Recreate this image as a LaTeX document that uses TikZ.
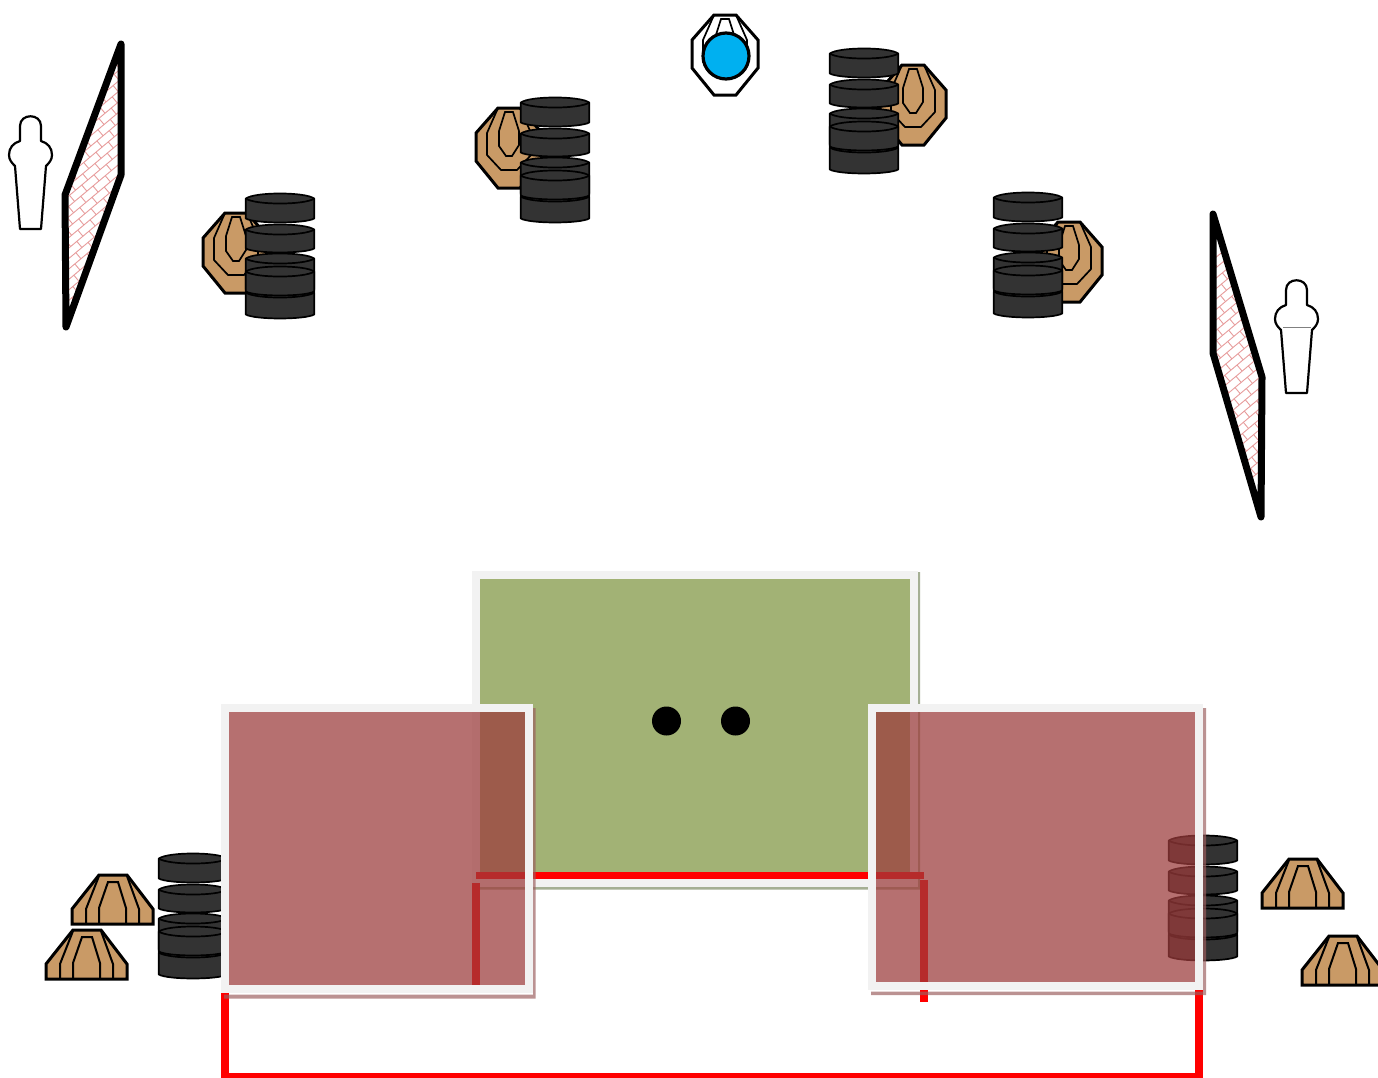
\documentclass[tikz,border=0pt]{standalone}
\definecolor{tanfill}{HTML}{C99A66}
\definecolor{darkfill}{HTML}{333333}
\definecolor{bluefill}{HTML}{00B0F0}
\definecolor{greenfill}{HTML}{A2B275}
\definecolor{greenshadow}{HTML}{A5AF94}
\definecolor{bordgrey}{HTML}{F2F2F2}
\definecolor{redfillc}{HTML}{9C3C3C}
\definecolor{redshadow}{HTML}{9C5F5F}
\definecolor{brickc}{HTML}{E79C9C}
\tikzset{
  cylbody/.style={draw=black,fill=darkfill,line width=1.7pt,line join=round},
  cylline/.style={draw=black,line width=1.7pt},
  targout/.style={draw=black,line width=3pt,line join=miter},
  targin/.style={draw=black,line width=1.7pt,line join=miter},
  coneout/.style={draw=black,fill=tanfill,line width=3pt,line join=miter},
  conein/.style={draw=black,line width=2pt,line join=miter},
  personline/.style={draw=black,fill=white,line width=2.2pt,line join=round},
  wallline/.style={draw=black,line width=7pt,line join=round,line cap=round},
  brickline/.style={draw=brickc,line width=.9pt},
  redline/.style={draw=red,line width=7.5pt},
  panelborder/.style={draw=bordgrey,line width=8pt,line join=miter},
  redfill/.style={fill=redfillc,fill opacity=.73},
  redshade/.style={fill=redshadow,fill opacity=.68},
}
\newcommand{\cylone}[2]{% top, bottom
  \path[cylbody] (.8,#1+5) -- (.8,#2-4) .. controls (10,#2+1.3) and (60,#2+1.3) .. (69.2,#2-4)
    -- (69.2,#1+5) .. controls (60,#1-1.7) and (10,#1-1.7) .. cycle;
  \path[cylline] (.8,#1+5) .. controls (10,#1+11.7) and (60,#1+11.7) .. (69.2,#1+5);
}
\newcommand{\tirestack}[2]{\begin{scope}[shift={(#1,#2+.5)}]
  \cylone{0}{29}\cylone{31}{59}\cylone{60}{100}\cylone{94}{125}\cylone{73}{102}
\end{scope}}
\newcommand{\targetshape}[3]{\begin{scope}[shift={(#1,#2)}]
  \draw[targout,fill=#3] (22,0) -- (44,0) -- (66,25) -- (66,53) -- (44,80) -- (22,80) -- (0,53) -- (0,25) -- cycle;
  \draw[targin] (22,0) -- (11,25) -- (11,47) -- (25,62) -- (41,62) -- (55,47) -- (55,25) -- (44,0);
  \draw[targin] (29,4) -- (37,4) -- (43,23) -- (43,37) -- (36,48) -- (30,48) -- (23,38) -- (23,23) -- cycle;
\end{scope}}
\newcommand{\conebody}[2]{\begin{scope}[shift={(#1,#2)}]
  \path[coneout] (27,0) -- (55,0) -- (81,34) -- (81,49) -- (0,49) -- (0,34) -- cycle;
  \path[conein] (14,49) -- (14,34) -- (27,1);
  \path[conein] (67,49) -- (67,34) -- (55,1);
  \path[conein] (27,49) -- (27,33) -- (36,7) -- (46,7) -- (54,33) -- (54,49);
\end{scope}}
\newcommand{\personbody}[2]{\begin{scope}[shift={(#1,#2)}]
  \path[personline] (20,141) -- (20,126) .. controls (20,113) and (41,113) .. (41,126) -- (41,141)
    .. controls (48,143) and (52,148) .. (52,155) .. controls (52,160) and (49,163) .. (46,166)
    -- (41,229) -- (20,229) -- (15,166) .. controls (12,163) and (9,160) .. (9,155)
    .. controls (9,148) and (13,143) .. cycle;
\end{scope}}
\newcommand{\brickfield}[2]{\begin{scope}[shift={(#1,#2)},rotate=40]
  \foreach \r in {-12,...,12}{
    \draw[brickline] (-180,\r*8) -- (180,\r*8);
    \pgfmathsetmacro{\brickoff}{mod(\r+12,2)*8}
    \foreach \c in {-12,...,12}{
      \draw[brickline] (\c*16+\brickoff,\r*8) -- (\c*16+\brickoff,\r*8+8);
    }
  }
\end{scope}}
\begin{document}
\begin{tikzpicture}[x=1pt,y=-1pt]
\useasboundingbox (0,0) rectangle (1378,1077);
\fill[white] (0,0) rectangle (1378,1077);
% walls
\begin{scope}
  \clip (66,328) -- (65,195) -- (121,44) -- (121,175) -- cycle;
  \brickfield{93}{186}
\end{scope}
\path[wallline] (66,327) -- (65,195) -- (121,44) -- (121,175) -- cycle;
\begin{scope}
  \clip (1213,214) -- (1262,377) -- (1261,517) -- (1213,353) -- cycle;
  \brickfield{1237}{365}
\end{scope}
\path[wallline] (1261,517) -- (1262,377) -- (1213,214) -- (1213,353) -- cycle;
% people
\personbody{0}{0}
\personbody{1266}{164}
\draw[gray,line width=.8pt] (1283,327.5) -- (1311,327.5);
% targets
\targetshape{203}{213}{tanfill}
\targetshape{476}{108}{tanfill}
\targetshape{880}{65}{tanfill}
\targetshape{1036}{222}{tanfill}
\targetshape{692}{15}{white}
\draw[black,fill=bluefill,line width=3.2pt] (726,56) circle [radius=23];
% stacks
\tirestack{245}{193}
\tirestack{520}{97}
\tirestack{829}{48}
\tirestack{993}{192}
\tirestack{158}{853}
\tirestack{1168}{835}
% cones
\conebody{72}{875}
\conebody{46}{930}
\conebody{1262}{859}
\conebody{1302}{936}
% green panel
\fill[greenshadow] (914,572) -- (920,572) -- (920,889.5) -- (476,889.5) -- (476,883) -- (914,883) -- cycle;
\path[panelborder,fill=greenfill] (476,575) rectangle (914,882.5);
% dots
\fill[black] (666.5,721) circle [radius=14.5];
\fill[black] (735.5,721) circle [radius=14.5];
% red route
\path[redline] (476,875.5) -- (924,875.5);
\path[redline] (924,880) -- (924,1002);
\path[redline] (476,883) -- (476,988);
\path[redline,line join=miter] (225,985) -- (225,1076.5) -- (1199,1076.5) -- (1199,985);
% red panels
\fill[redshade] (533,708) -- (535.5,708) -- (535.5,998.5) -- (224,998.5) -- (224,994.5) -- (533,994.5) -- cycle;
\fill[redshade] (1203,708) -- (1206,708) -- (1206,995) -- (871,995) -- (871,991.5) -- (1203,991.5) -- cycle;
\fill[redfill] (225,708) rectangle (529,988);
\draw[panelborder] (225,708) rectangle (529,989);
\fill[redfill] (872,708) rectangle (1199,986);
\draw[panelborder] (872,708) rectangle (1199,986);
\end{tikzpicture}
\end{document}
